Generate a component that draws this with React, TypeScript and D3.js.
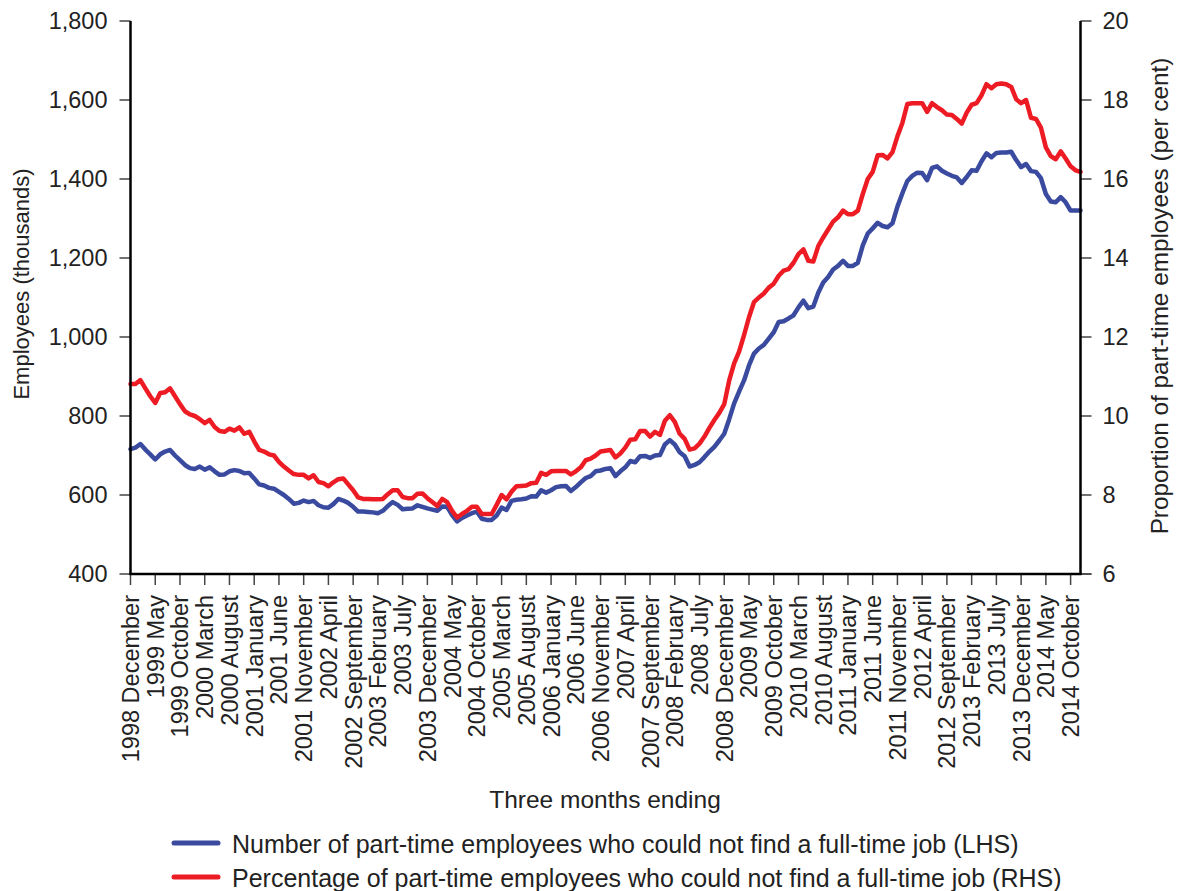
import React from "react";
import * as d3 from "d3";

// Monthly data, three months ending 1998 December .. 2014 December
const numberThousands: number[] = [
  716, 720, 729, 715, 703, 690, 703, 710, 714, 700,
  688, 676, 668, 666, 672, 664, 670, 660, 651, 652,
  660, 663, 661, 655, 656, 642, 627, 624, 618, 616,
  608, 600, 590, 578, 580, 586, 582, 585, 574, 569,
  568, 577, 590, 586, 580, 570, 558, 558, 557, 556,
  554, 560, 572, 582, 575, 564, 565, 566, 574, 570,
  566, 563, 560, 571, 570, 549, 533, 542, 548, 554,
  558, 540, 537, 537, 548, 568, 562, 585, 588, 589,
  591, 597, 596, 612, 606, 612, 620, 622, 623, 610,
  620, 632, 643, 648, 660, 662, 666, 668, 648, 660,
  670, 686, 683, 698, 699, 694, 700, 701, 728, 739,
  728, 708, 698, 672, 676, 683, 696, 710, 722, 738,
  755, 792, 832, 862, 890, 928, 958, 971, 980, 996,
  1012, 1038, 1040, 1047, 1055, 1075, 1092, 1073, 1077, 1112,
  1138, 1152, 1171, 1180, 1193, 1180, 1180, 1188, 1232, 1262,
  1275, 1289, 1281, 1278, 1288, 1330, 1364, 1395, 1408, 1416,
  1415, 1397, 1428, 1432, 1421, 1414, 1408, 1404, 1390, 1405,
  1422, 1421, 1445, 1465, 1455, 1466, 1467, 1467, 1469, 1448,
  1430, 1438, 1420, 1418, 1402, 1362, 1343, 1341, 1354, 1341,
  1320, 1320, 1320,
];

const percentRHS: number[] = [
  10.81, 10.81, 10.91, 10.7, 10.5, 10.33, 10.58, 10.6, 10.7, 10.5,
  10.3, 10.12, 10.04, 10.0, 9.92, 9.82, 9.9, 9.72, 9.62, 9.6,
  9.68, 9.63, 9.71, 9.55, 9.6, 9.36, 9.14, 9.1, 9.03, 9.0,
  8.84, 8.72, 8.62, 8.53, 8.51, 8.51, 8.42, 8.5, 8.33, 8.3,
  8.22, 8.32, 8.4, 8.42, 8.27, 8.12, 7.94, 7.9, 7.9, 7.89,
  7.89, 7.9, 8.02, 8.12, 8.12, 7.95, 7.92, 7.92, 8.03, 8.04,
  7.92, 7.82, 7.72, 7.9, 7.82, 7.6, 7.43, 7.52, 7.6, 7.7,
  7.7, 7.52, 7.52, 7.52, 7.75, 8.0, 7.89, 8.08, 8.22, 8.23,
  8.24, 8.3, 8.31, 8.56, 8.51, 8.6, 8.61, 8.61, 8.61, 8.52,
  8.6, 8.7, 8.88, 8.92, 9.0, 9.1, 9.12, 9.14, 8.95, 9.05,
  9.2, 9.4, 9.41, 9.62, 9.62, 9.48, 9.6, 9.52, 9.88, 10.02,
  9.85, 9.55, 9.42, 9.15, 9.18, 9.3, 9.48, 9.7, 9.9, 10.08,
  10.3, 10.9, 11.33, 11.63, 12.05, 12.5, 12.88, 13.0, 13.1, 13.25,
  13.35, 13.55, 13.68, 13.72, 13.88, 14.1, 14.22, 13.93, 13.91, 14.3,
  14.52, 14.72, 14.92, 15.03, 15.2, 15.11, 15.11, 15.2, 15.62, 16.0,
  16.18, 16.6, 16.61, 16.52, 16.68, 17.08, 17.42, 17.9, 17.92, 17.92,
  17.92, 17.7, 17.92, 17.82, 17.74, 17.63, 17.62, 17.52, 17.4, 17.68,
  17.88, 17.92, 18.12, 18.4, 18.3, 18.4, 18.42, 18.4, 18.33, 18.02,
  17.92, 18.0, 17.55, 17.52, 17.3, 16.8, 16.58, 16.5, 16.7, 16.52,
  16.32, 16.22, 16.18,
];

// One label every five months, starting at the first month
const tickLabels: string[] = [
  "1998 December", "1999 May", "1999 October", "2000 March", "2000 August",
  "2001 January", "2001 June", "2001 November", "2002 April", "2002 September",
  "2003 February", "2003 July", "2003 December", "2004 May", "2004 October",
  "2005 March", "2005 August", "2006 January", "2006 June", "2006 November",
  "2007 April", "2007 September", "2008 February", "2008 July", "2008 December",
  "2009 May", "2009 October", "2010 March", "2010 August", "2011 January",
  "2011 June", "2011 November", "2012 April", "2012 September", "2013 February",
  "2013 July", "2013 December", "2014 May", "2014 October",
];
const tickStep = 5;

const leftTicks: number[] = [400, 600, 800, 1000, 1200, 1400, 1600, 1800];
const rightTicks: number[] = [6, 8, 10, 12, 14, 16, 18, 20];

const seriesNames: string[] = [
  "Number of part-time employees who could not find a full-time job (LHS)",
  "Percentage of part-time employees who could not find a full-time job (RHS)",
];

const W = 1178;
const H = 891;
const L = 130.5;
const R = 1080.5;
const T = 21;
const B = 574;
const BLUE = "#3a4b9f";
const RED = "#ed1c24";
const FONT = "'Liberation Sans', Arial, Helvetica, sans-serif";
const TICK_FS = 23.5;

export default function App() {
  const n = numberThousands.length;
  const x = d3.scaleLinear().domain([0, n - 1]).range([L, R]);
  const yL = d3.scaleLinear().domain([400, 1800]).range([B, T]);
  const yR = d3.scaleLinear().domain([6, 20]).range([B, T]);

  const lineL = d3
    .line<number>()
    .x((_, i) => x(i))
    .y((d) => yL(d));
  const lineR = d3
    .line<number>()
    .x((_, i) => x(i))
    .y((d) => yR(d));

  const fmt = d3.format(",");

  return (
    <svg
      width={W}
      height={H}
      style={{ position: "absolute", left: 0, top: 0, background: "#fff" }}
      fontFamily={FONT}
    >
      <rect x={0} y={0} width={W} height={H} fill="#fff" />
      {/* series */}
      <path d={lineL(numberThousands) || ""} fill="none" stroke={BLUE} strokeWidth={4.5} strokeLinejoin="round" strokeLinecap="round" />
      <path d={lineR(percentRHS) || ""} fill="none" stroke={RED} strokeWidth={4.5} strokeLinejoin="round" strokeLinecap="round" />

      {/* left axis */}
      {leftTicks.map((t) => (
        <g key={"l" + t}>
          <line x1={L - 11} x2={L} y1={yL(t)} y2={yL(t)} stroke="#444" strokeWidth={1.5} />
          <text x={L - 23} y={yL(t)} dy="0.35em" textAnchor="end" fontSize={TICK_FS} fill="#222">
            {fmt(t)}
          </text>
        </g>
      ))}
      {/* right axis */}
      {rightTicks.map((t) => (
        <g key={"r" + t}>
          <line x1={R} x2={R + 11} y1={yR(t)} y2={yR(t)} stroke="#444" strokeWidth={1.5} />
          <text x={R + 22} y={yR(t)} dy="0.35em" textAnchor="start" fontSize={TICK_FS} fill="#222">
            {t}
          </text>
        </g>
      ))}
      {/* bottom ticks */}
      {tickLabels.map((lab, k) => {
        const xi = x(k * tickStep);
        return (
          <g key={"b" + k}>
            <line x1={xi} x2={xi} y1={B} y2={B + 11} stroke="#444" strokeWidth={1.5} />
            <text
              transform={`translate(${xi},${B + 21}) rotate(-90)`}
              dy="0.36em"
              textAnchor="end"
              fontSize={TICK_FS}
              fill="#222"
            >
              {lab}
            </text>
          </g>
        );
      })}
      <line x1={R} x2={R + 11} y1={B} y2={B} stroke="#444" strokeWidth={1.5} />

      {/* axis lines */}
      <line x1={L} x2={L} y1={T} y2={B + 1} stroke="#000" strokeWidth={2.5} />
      <line x1={R} x2={R} y1={T} y2={B + 1} stroke="#000" strokeWidth={2.5} />
      <line x1={L - 1} x2={R + 1} y1={B} y2={B} stroke="#000" strokeWidth={2.5} />

      {/* axis titles */}
      <text transform={`translate(29,284) rotate(-90)`} textAnchor="middle" fontSize={22} fill="#222">
        Employees (thousands)
      </text>
      <text transform={`translate(1151,296) rotate(-90)`} dy="0.7em" textAnchor="middle" fontSize={24.3} fill="#222">
        Proportion of part-time employees (per cent)
      </text>
      <text x={605} y={808} textAnchor="middle" fontSize={24.5} fill="#222">
        Three months ending
      </text>

      {/* legend */}
      {seriesNames.map((s, k) => {
        const ly = 843 + k * 34;
        return (
          <g key={"lg" + k}>
            <line x1={174} x2={218} y1={ly} y2={ly} stroke={k === 0 ? BLUE : RED} strokeWidth={5} strokeLinecap="round" />
            <text x={232} y={ly + 10} fontSize={25} fill="#222">
              {s}
            </text>
          </g>
        );
      })}
    </svg>
  );
}
